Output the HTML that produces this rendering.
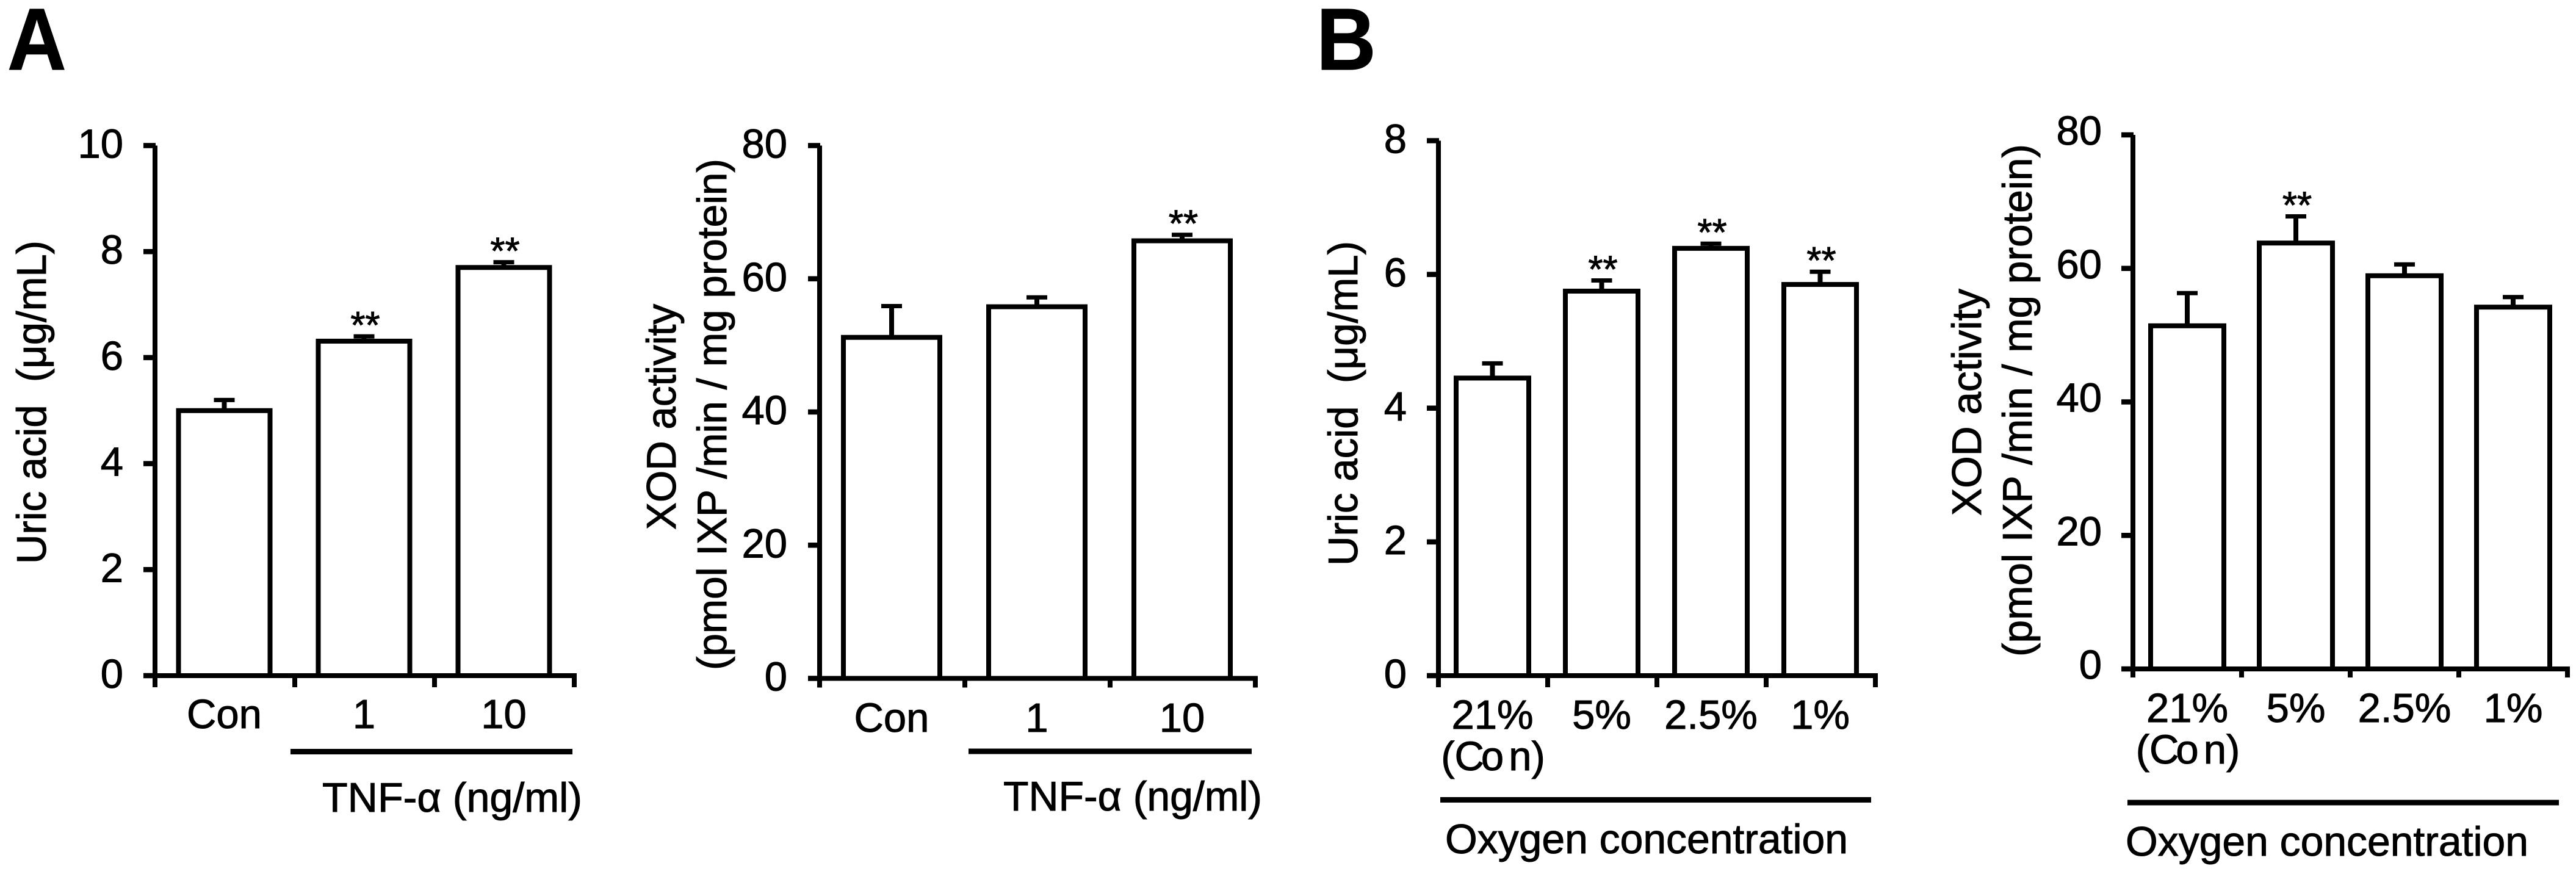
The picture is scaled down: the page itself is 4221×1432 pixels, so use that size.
<!DOCTYPE html>
<html lang="en">
<head>
<meta charset="utf-8">
<title>Uric acid and XOD activity under TNF-α and hypoxia</title>
<style>
  html, body { margin: 0; padding: 0; background: #fff; }
  svg { display: block; }
  text { font-family: "Liberation Sans", sans-serif; fill: #000; stroke: #000; stroke-width: 1px; }
</style>
</head>
<body>
<svg id="figure" xmlns="http://www.w3.org/2000/svg" width="4221" height="1432" viewBox="0 0 4221 1432">
  <rect x="0" y="0" width="4221" height="1432" fill="#fff"></rect>
  <text transform="translate(12 114) scale(0.93 1)" font-size="144" font-weight="700">A</text>
  <text transform="translate(2157 114) scale(0.94 1)" font-size="144" font-weight="700">B</text>
</svg>
<script>
// ---- Data ----
const tnfCategories = ["Con", "1", "10"];
const oxygenCategories = ["21%", "5%", "2.5%", "1%"];

const uricTnfTicks = [0, 2, 4, 6, 8, 10];
const uricTnfValues = [5.0, 6.31, 7.7];
const uricTnfErrors = [0.2, 0.09, 0.1];
const uricTnfStars = ["", "**", "**"];

const xodTnfTicks = [0, 20, 40, 60, 80];
const xodTnfValues = [51.2, 55.8, 65.7];
const xodTnfErrors = [4.7, 1.4, 0.9];
const xodTnfStars = ["", "", "**"];

const uricOxygenTicks = [0, 2, 4, 6, 8];
const uricOxygenValues = [4.45, 5.75, 6.39, 5.85];
const uricOxygenErrors = [0.22, 0.16, 0.07, 0.19];
const uricOxygenStars = ["", "**", "**", "**"];

const xodOxygenTicks = [0, 20, 40, 60, 80];
const xodOxygenValues = [51.4, 63.8, 58.9, 54.2];
const xodOxygenErrors = [4.9, 4.0, 1.7, 1.5];
const xodOxygenStars = ["", "**", "", ""];

const svg = document.getElementById('figure');
const NS = 'http://www.w3.org/2000/svg';

function make(tag, attrs, parent) {
  const el = document.createElementNS(NS, tag);
  for (const k in attrs) el.setAttribute(k, attrs[k]);
  (parent || svg).appendChild(el);
  return el;
}

function line(parent, x1, y1, x2, y2, w) {
  return make('line', { x1: x1, y1: y1, x2: x2, y2: y2, stroke: '#000', 'stroke-width': w }, parent);
}

function label(parent, x, y, str, size, anchor) {
  const t = make('text', { x: x, y: y, 'font-size': size, 'text-anchor': anchor }, parent);
  t.textContent = str;
  return t;
}

function vertical(parent, x, y, str, size, len) {
  const t = make('text', {
    transform: 'translate(' + x + ' ' + y + ') rotate(-90)',
    'font-size': size,
    textLength: len,
    lengthAdjust: 'spacingAndGlyphs'
  }, parent);
  t.style.whiteSpace = 'pre';
  t.textContent = str;
  return t;
}

function drawPanel(p) {
  const g = make('g', {});
  
  

  const yMax = p.ticks[p.ticks.length - 1];
  const yScale = function (v) { return p.y0 - (p.y0 - p.yTop) * v / yMax; };
  const band = (p.xEnd - p.x0) / p.categories.length;
  const xEdge = function (i) { return p.x0 + band * i; };
  const xMid = function (i) { return p.x0 + band * (i + 0.5) + p.barShift; };

  // y axis
  const yAxis = line(g, p.x0, p.yTop, p.x0, p.y0 + p.tickLen, 8);
  
  

  p.ticks.forEach(function (v) {
    const tick = line(g, p.x0 - 19, yScale(v), p.x0 + 1, yScale(v), 8.5);
    
    
    const tl = label(g, p.tickRight, yScale(v) + p.tickDrop, String(v), 67, 'end');
    
    
  });

  // error bars and bars
  p.values.forEach(function (v, i) {
    const top = yScale(v + p.errors[i]);
    const stem = line(g, xMid(i), top, xMid(i), yScale(v), 8);
    
    
    const cap = line(g, xMid(i) - 17, top, xMid(i) + 17, top, 7);
    
    

    const bar = make('rect', {
      x: xMid(i) - p.barWidth / 2,
      y: yScale(v),
      width: p.barWidth,
      height: p.y0 - yScale(v),
      fill: '#fff',
      stroke: '#000',
      'stroke-width': 8
    }, g);
    
    

    if (p.stars[i]) {
      const s = make('text', {
        x: xMid(i) + 2,
        y: top + 3,
        'font-size': 62,
        'text-anchor': 'middle'
      }, g);
      s.textContent = p.stars[i];
      
      
    }
  });

  // x axis
  const xAxis = line(g, p.x0 - 19, p.y0, p.xEnd + 4, p.y0, 8);
  
  

  p.categories.forEach(function (c, i) {
    const tick = line(g, xEdge(i), p.y0, xEdge(i), p.y0 + p.tickLen, 8);
    
    
    const cl = label(g, xMid(i), p.catBase, c, 67, 'middle');
    
    
  });
  const endTick = line(g, p.xEnd, p.y0, p.xEnd, p.y0 + p.tickLen, 8);
  
  

  if (p.conBase) {
    const con = label(g, xMid(0) + 1, p.conBase, '(Con)', 67, 'middle');
    con.setAttribute('dx', '0 0 -5 8 0');
    
    
  }

  // group bracket line and title
  const rule = line(g, p.ruleX1, p.ruleY, p.ruleX2, p.ruleY, 9);
  
  
  const gt = make('text', {
    x: p.groupX,
    y: p.groupBase,
    'font-size': 68,
    textLength: p.groupLen,
    lengthAdjust: 'spacingAndGlyphs'
  }, g);
  gt.textContent = p.groupText;
  
  

  // y titles
  p.titles.forEach(function (tt) {
    const yt = vertical(g, tt.x, tt.y, tt.text, 68, tt.len);
    
    
  });
}

drawPanel({
  name: 'uric-acid-tnf-chart', categories: tnfCategories, ticks: uricTnfTicks,
  values: uricTnfValues, errors: uricTnfErrors, stars: uricTnfStars,
  x0: 254, xEnd: 941, yTop: 238.5, y0: 1107, barWidth: 150, barShift: -1, tickLen: 19,
  tickRight: 202, tickDrop: 20, catBase: 1193,
  ruleX1: 476, ruleX2: 938, ruleY: 1231.5,
  groupText: 'TNF-α (ng/ml)', groupX: 528, groupBase: 1330, groupLen: 426,
  titles: [{ text: 'Uric acid  (μg/mL)', x: 75, y: 924, len: 530 }]
});

drawPanel({
  name: 'xod-activity-tnf-chart', categories: tnfCategories, ticks: xodTnfTicks,
  values: xodTnfValues, errors: xodTnfErrors, stars: xodTnfStars,
  x0: 1343, xEnd: 2057, yTop: 238.5, y0: 1111.5, barWidth: 158, barShift: -1, tickLen: 15,
  tickRight: 1290, tickDrop: 20, catBase: 1199,
  ruleX1: 1587, ruleX2: 2051, ruleY: 1231,
  groupText: 'TNF-α (ng/ml)', groupX: 1644, groupBase: 1328, groupLen: 424,
  titles: [
    { text: 'XOD activity', x: 1107, y: 868, len: 370 },
    { text: '(pmol IXP /min / mg protein)', x: 1190, y: 1098, len: 838 }
  ]
});

drawPanel({
  name: 'uric-acid-oxygen-chart', categories: oxygenCategories, ticks: uricOxygenTicks,
  values: uricOxygenValues, errors: uricOxygenErrors, stars: uricOxygenStars,
  x0: 2357, xEnd: 3073, yTop: 230.5, y0: 1107, barWidth: 119, barShift: -1, tickLen: 19,
  tickRight: 2305, tickDrop: 20, catBase: 1194,
  conBase: 1262,
  ruleX1: 2360, ruleX2: 3066, ruleY: 1310.5,
  groupText: 'Oxygen concentration', groupX: 2368, groupBase: 1398, groupLen: 660,
  titles: [{ text: 'Uric acid  (μg/mL)', x: 2224, y: 927, len: 532 }]
});

drawPanel({
  name: 'xod-activity-oxygen-chart', categories: oxygenCategories, ticks: xodOxygenTicks,
  values: xodOxygenValues, errors: xodOxygenErrors, stars: xodOxygenStars,
  x0: 3495, xEnd: 4207, yTop: 221, y0: 1096, barWidth: 120, barShift: 0, tickLen: 14,
  tickRight: 3444, tickDrop: 16, catBase: 1183,
  conBase: 1251,
  ruleX1: 3486, ruleX2: 4193, ruleY: 1315,
  groupText: 'Oxygen concentration', groupX: 3483, groupBase: 1402, groupLen: 660,
  titles: [
    { text: 'XOD activity', x: 3246, y: 845, len: 372 },
    { text: '(pmol IXP /min / mg protein)', x: 3329, y: 1076, len: 840 }
  ]
});
</script>
</body>
</html>
